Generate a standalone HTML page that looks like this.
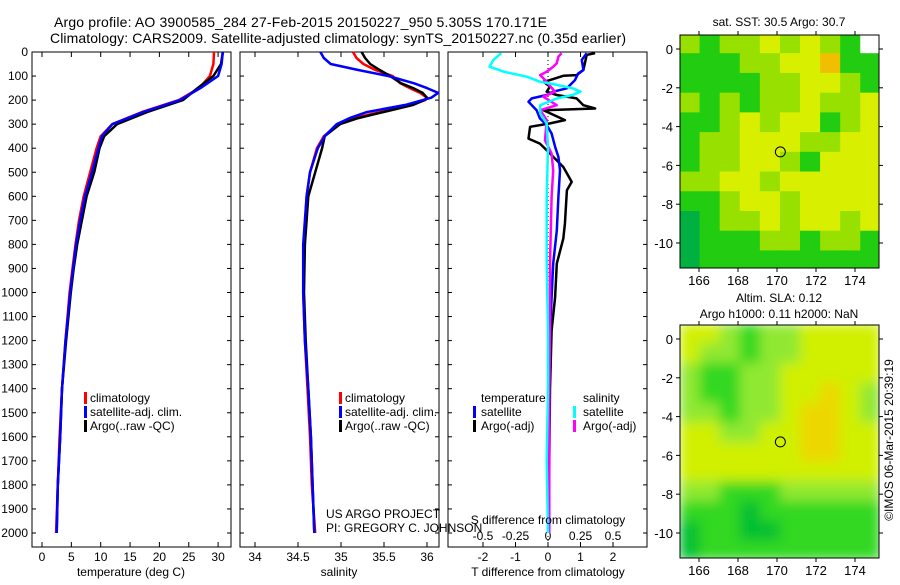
<!DOCTYPE html>
<html><head><meta charset="utf-8">
<style>
html,body{margin:0;padding:0;background:#fff;}
body{width:900px;height:580px;overflow:hidden;font-family:"Liberation Sans",sans-serif;}
svg text{font-family:"Liberation Sans",sans-serif;fill:#000;}
</style></head>
<body>
<svg id="fig" width="900" height="580" viewBox="0 0 900 580" xmlns="http://www.w3.org/2000/svg">
<text x="54" y="27" font-size="14" textLength="493">Argo profile: AO 3900585_284 27-Feb-2015 20150227_950 5.305S 170.171E</text>
<text x="50" y="43" font-size="14" textLength="576">Climatology: CARS2009. Satellite-adjusted climatology: synTS_20150227.nc (0.35d earlier)</text>
<g id="plots"></g>
<text x="779" y="26" font-size="12" text-anchor="middle">sat. SST: 30.5 Argo: 30.7</text>
<text x="779" y="302" font-size="12" text-anchor="middle">Altim. SLA: 0.12</text>
<text x="779" y="318" font-size="12" text-anchor="middle">Argo h1000: 0.11 h2000: NaN</text>
<text x="0" y="0" font-size="12" text-anchor="middle" transform="translate(893,440) rotate(-90)">©IMOS 06-Mar-2015 20:39:19</text>
</svg>
<script>
// ---------- data ----------
const tDepth = [0,50,100,150,200,250,300,350,400,500,600,700,800,900,1000,1200,1400,1600,1800,2000];
const tRed   = [29.3,29.2,28.6,26.8,23.3,17.0,12.0,10.0,9.3,8.2,7.1,6.3,5.7,5.2,4.7,4.0,3.4,3.0,2.7,2.4];
const tBlack = [30.8,30.5,29.2,26.5,24.0,17.9,12.8,10.6,9.8,8.9,7.6,6.8,6.0,5.4,4.9,4.1,3.4,3.1,2.7,2.5];
const tBlue  = [30.8,30.6,30.0,27.0,23.5,17.2,12.0,10.2,9.6,8.5,7.3,6.5,5.8,5.3,4.8,4.0,3.4,3.1,2.7,2.5];

const sDepth = [0,25,50,75,100,130,150,170,190,200,220,250,275,300,350,400,500,600,800,1000,1200,1400,1600,1800,2000];
const sRed   = [35.14,35.18,35.26,35.4,35.6,35.69,35.8,35.92,36.0,35.98,35.8,35.45,35.15,34.97,34.8,34.72,34.64,34.6,34.57,34.56,34.58,34.61,34.64,34.66,34.7];
const sBlack = [35.24,35.28,35.34,35.45,35.57,35.7,35.84,35.95,36.0,35.97,35.84,35.49,35.2,34.99,34.81,34.78,34.7,34.62,34.58,34.57,34.59,34.62,34.65,34.67,34.69];
const sBlue  = [34.76,34.8,34.88,35.2,35.55,35.85,36.0,36.13,36.05,35.95,35.75,35.3,35.1,34.95,34.81,34.73,34.64,34.6,34.56,34.56,34.58,34.62,34.65,34.67,34.69];

const dtArgoDepth = [5,12,75,96,99,117,124,144,165,179,193,221,235,242,283,297,311,360,381,422,478,540,575,714,776,880,1020,1158,1400,1700,2000];
const dtArgo      = [1.45,1.19,1.09,0.88,0.47,0.06,-0.14,0.06,-0.04,0.27,0.88,1.09,1.45,-0.14,0.52,0.06,-0.55,-0.6,-0.25,0.06,0.47,0.73,0.58,0.52,0.47,0.27,0.22,0.11,0.06,0.04,0.03];
const dtSatDepth  = [5,33,75,89,117,151,165,179,193,207,242,276,304,339,394,436,492,603,742,880,1020,1158,1400,1700,2000];
const dtSat       = [1.19,1.04,1.09,0.93,0.83,0.58,0.16,-0.04,-0.5,-0.6,-0.35,-0.25,-0.04,0.11,0.22,0.32,0.37,0.32,0.27,0.16,0.11,0.06,0.04,0.03,0.03];
const dsSatDepth  = [5,33,61,82,103,124,131,151,165,179,193,221,256,297,394,603,880,1158,1400,1700,2000];
const dsSat       = [-0.36,-0.42,-0.45,-0.34,-0.16,-0.06,0.02,0.19,0.25,0.19,0.07,-0.06,-0.06,-0.01,0.0,-0.01,-0.01,0.0,0.0,-0.01,0.0];
const dsArgoDepth = [5,19,47,61,82,96,124,144,165,186,221,242,283,367,422,492,603,880,1158,1400,1700,2000];
const dsArgo      = [0.105,0.08,0.067,0.04,-0.01,-0.06,-0.01,0.02,0.054,-0.036,0.067,-0.06,-0.01,-0.023,0.028,0.04,0.028,0.015,0.015,0.01,0.01,0.01];

const depthTicks = [0,100,200,300,400,500,600,700,800,900,1000,1100,1200,1300,1400,1500,1600,1700,1800,1900,2000];
const tempTicks = [0,5,10,15,20,25,30];
const salTicks = [34,34.5,35,35.5,36];
const salTickLabels = ["34","34.5","35","35.5","36"];
const dtTicks = [-2,-1,0,1,2];
const dsTicks = [-0.5,-0.25,0,0.25,0.5];
const dsTickLabels = ["-0.5","-0.25","0","0.25","0.5"];

const sstGrid = [
[2,1,2,2,3,2,3,2,1,5],
[1,1,1,2,2,3,3,4,1,1],
[1,1,1,1,2,2,3,3,2,1],
[2,1,2,1,2,2,3,2,2,3],
[1,1,2,3,2,3,3,1,2,3],
[1,2,2,3,3,3,2,2,3,3],
[1,2,2,3,3,2,1,3,3,3],
[2,2,3,3,2,3,3,3,3,3],
[1,1,2,3,3,2,3,3,3,3],
[0,1,2,2,3,2,3,3,2,3],
[0,1,1,1,2,2,1,2,2,1],
[0,1,1,1,1,1,1,1,1,1]];
const slaGrid = [
[3,3,2,1,2,2,3,3,3,3],
[3,2,2,1,2,2,3,3,3,3],
[2,1,1,2,2,3,3,3,3,3],
[2,1,1,2,2,3,3,4,3,2],
[2,2,1,2,2,3,4,4,3,2],
[3,3,2,2,3,3,4,4,3,3],
[3,3,3,3,3,3,4,4,3,3],
[3,3,3,3,3,3,3,3,3,3],
[2,2,1,1,1,2,2,2,2,2],
[1,1,1,0,1,1,1,1,1,1],
[0,1,1,0,0,1,1,1,1,1],
[0,1,1,1,1,1,1,1,1,1]];
const lonTicks = [166,168,170,172,174];
const latTicks = [0,-2,-4,-6,-8,-10];
const argoLon = [170.171];
const argoLat = [-5.305];

// ---------- helpers ----------
const NS = "http://www.w3.org/2000/svg";
const root = document.getElementById('plots');
function mk(tag, attrs, parent){
  const e = document.createElementNS(NS, tag);
  for (const k in attrs) e.setAttribute(k, attrs[k]);
  (parent||root).appendChild(e);
  return e;
}
const TOP = 52, BOT = 547;
const yD = d => TOP + d * 0.2405;

function panel(x0, x1, name){
  const g = mk('g', {});
  
  
  const r = mk('rect', {x:x0, y:TOP, width:x1-x0, height:BOT-TOP, fill:'#fff', stroke:'#000', 'stroke-width':1}, g);
  
  
  depthTicks.forEach(d => {
    mk('line', {x1:x0, x2:x0+4, y1:yD(d), y2:yD(d), stroke:'#000'}, g);
    mk('line', {x1:x1-4, x2:x1, y1:yD(d), y2:yD(d), stroke:'#000'}, g);
  });
  return g;
}
function line(g, xs, ds, fx, color, name, w){
  const pts = xs.map((v,i) => fx(v).toFixed(1) + ',' + yD(ds[i]).toFixed(1)).join(' ');
  const p = mk('polyline', {points:pts, fill:'none', stroke:color, 'stroke-width':w||2.5, 'stroke-linejoin':'round'}, g);
  
  
}
function txt(g, x, y, s, size, anchor, name){
  const t = mk('text', {x:x, y:y, 'font-size':size||12, 'text-anchor':anchor||'start'}, g);
  t.textContent = s;
  
  
  return t;
}
function legMark(g, x, y, color, name){
  const m = mk('rect', {x:x, y:y-10, width:3, height:12, fill:color}, g);
  
  
}

// depth labels
depthTicks.forEach(d => txt(root, 28, yD(d)+4, String(d), 12, 'end', 'depth-tick-label'));

// ---------- panel 1 temperature ----------
const xT = v => 42 + v * 5.87;
const p1 = panel(32, 231, 'temperature-panel');
tempTicks.forEach(v => {
  mk('line', {x1:xT(v), x2:xT(v), y1:BOT, y2:BOT-5, stroke:'#000'}, p1);
  mk('line', {x1:xT(v), x2:xT(v), y1:TOP, y2:TOP+5, stroke:'#000'}, p1);
  txt(p1, xT(v), 561, String(v), 12, 'middle', 'temperature-tick-label');
});
line(p1, tRed, tDepth, xT, '#f00', 'temperature-climatology-line');
line(p1, tBlack, tDepth, xT, '#000', 'temperature-argo-line');
line(p1, tBlue, tDepth, xT, '#00f', 'temperature-satellite-line');
txt(p1, 131, 576, 'temperature (deg C)', 12, 'middle', 'temperature-axis-title');
legMark(p1, 84, 402, '#f00', 'legend-climatology-marker');
txt(p1, 90, 402, 'climatology', 12, 'start', 'legend-climatology');
legMark(p1, 84, 416, '#00f', 'legend-satellite-marker');
txt(p1, 90, 416, 'satellite-adj. clim.', 12, 'start', 'legend-satellite');
legMark(p1, 84, 430, '#000', 'legend-argo-marker');
txt(p1, 90, 430, 'Argo(..raw -QC)', 12, 'start', 'legend-argo');

// ---------- panel 2 salinity ----------
const xS = v => 255 + (v - 34) * 86;
const p2 = panel(240, 439, 'salinity-panel');
salTicks.forEach((v,i) => {
  mk('line', {x1:xS(v), x2:xS(v), y1:BOT, y2:BOT-5, stroke:'#000'}, p2);
  mk('line', {x1:xS(v), x2:xS(v), y1:TOP, y2:TOP+5, stroke:'#000'}, p2);
  txt(p2, xS(v), 561, salTickLabels[i], 12, 'middle', 'salinity-tick-label');
});
line(p2, sRed, sDepth, xS, '#f00', 'salinity-climatology-line');
line(p2, sBlack, sDepth, xS, '#000', 'salinity-argo-line');
line(p2, sBlue, sDepth, xS, '#00f', 'salinity-satellite-line');
txt(p2, 339, 576, 'salinity', 12, 'middle', 'salinity-axis-title');
legMark(p2, 339, 402, '#f00', 'legend-climatology-marker');
txt(p2, 345, 402, 'climatology', 12, 'start', 'legend-climatology');
legMark(p2, 339, 416, '#00f', 'legend-satellite-marker');
txt(p2, 345, 416, 'satellite-adj. clim.', 12, 'start', 'legend-satellite');
legMark(p2, 339, 430, '#000', 'legend-argo-marker');
txt(p2, 345, 430, 'Argo(..raw -QC)', 12, 'start', 'legend-argo');

// ---------- panel 3 differences ----------
const xDT = v => 548 + v * 32.5;
const xDS = v => 548 + v * 130;
const p3 = panel(448, 647, 'difference-panel');
dtTicks.forEach(v => {
  mk('line', {x1:xDT(v), x2:xDT(v), y1:BOT, y2:BOT-5, stroke:'#000'}, p3);
  txt(p3, xDT(v), 561, String(v), 12, 'middle', 'tdiff-tick-label');
});
dsTicks.forEach((v,i) => {
  mk('line', {x1:xDS(v), x2:xDS(v), y1:TOP, y2:TOP+5, stroke:'#000'}, p3);
  txt(p3, xDS(v), 540, dsTickLabels[i], 12, 'middle', 'sdiff-tick-label');
});
mk('line', {x1:xDT(0), x2:xDT(0), y1:TOP, y2:BOT, stroke:'#000', 'stroke-width':1, 'stroke-dasharray':'1,3'}, p3);
line(p3, dtArgo, dtArgoDepth, xDT, '#000', 'tdiff-argo-line', 2.5);
line(p3, dtSat, dtSatDepth, xDT, '#00f', 'tdiff-satellite-line', 2.5);
line(p3, dsArgo, dsArgoDepth, xDS, '#f0f', 'sdiff-argo-line', 2.5);
line(p3, dsSat, dsSatDepth, xDS, '#0ff', 'sdiff-satellite-line', 2.5);
txt(p3, 548, 576, 'T difference from climatology', 12, 'middle', 'tdiff-axis-title');
txt(p3, 548, 524, 'S difference from climatology', 12, 'middle', 'sdiff-axis-title');
txt(p3, 481, 402, 'temperature', 12, 'start', 'legend-temperature-header');
txt(p3, 583, 402, 'salinity', 12, 'start', 'legend-salinity-header');
legMark(p3, 473, 416, '#00f', 'legend-t-satellite-marker');
txt(p3, 481, 416, 'satellite', 12, 'start', 'legend-t-satellite');
legMark(p3, 473, 430, '#000', 'legend-t-argo-marker');
txt(p3, 481, 430, 'Argo(-adj)', 12, 'start', 'legend-t-argo');
legMark(p3, 573, 416, '#0ff', 'legend-s-satellite-marker');
txt(p3, 583, 416, 'satellite', 12, 'start', 'legend-s-satellite');
legMark(p3, 573, 430, '#f0f', 'legend-s-argo-marker');
txt(p3, 583, 430, 'Argo(-adj)', 12, 'start', 'legend-s-argo');

// credits drawn on top of panels
txt(root, 326, 518, 'US ARGO PROJECT', 12, 'start', 'project-credit');
txt(root, 326, 532, 'PI: GREGORY C. JOHNSON', 12, 'start', 'pi-credit');

// ---------- maps ----------
function map(grid, colors, top, bot, lat0y, name, blur){
  const L = 680, R = 879;
  const xL = lon => 699 + (lon - 166) * 19.5;
  const yL = lat => lat0y - lat * 19.4;
  const g = mk('g', {});
  
  
  const clipId = name + '-clip';
  const cp = mk('clipPath', {id:clipId}, g);
  mk('rect', {x:L, y:top, width:R-L, height:bot-top}, cp);
  const cells = mk('g', {'clip-path':'url(#' + clipId + ')'}, g);
  const inner = mk('g', blur ? {filter:'url(#' + name + '-blur)'} : {}, cells);
  if (blur){
    const f = mk('filter', {id:name + '-blur', x:'-10%', y:'-10%', width:'120%', height:'120%'}, g);
    mk('feGaussianBlur', {stdDeviation:6}, f);
  }
  const rows = grid.length, cols = grid[0].length;
  const lonW = 10.3 / cols, latH = 12.2 / rows;
  grid.forEach((row, r) => row.forEach((v, c) => {
    const lon = 165 + c * lonW, lat = 0.8 - r * latH;
    const x = xL(lon), y = yL(lat);
    const cell = mk('rect', {x:x, y:y, width:xL(lon+lonW)-x+0.5, height:yL(lat-latH)-y+0.5, fill:colors[v]}, inner);
    
    
  }));
  const fr = mk('rect', {x:L, y:top, width:R-L, height:bot-top, fill:'none', stroke:'#000'}, g);
  
  
  lonTicks.forEach(v => {
    mk('line', {x1:xL(v), x2:xL(v), y1:top, y2:top-4, stroke:'#000'}, g);
    mk('line', {x1:xL(v), x2:xL(v), y1:bot, y2:bot+4, stroke:'#000'}, g);
    txt(g, xL(v), bot+17, String(v), 13, 'middle', 'lon-tick-label');
  });
  latTicks.forEach(v => {
    mk('line', {x1:L, x2:L-4, y1:yL(v), y2:yL(v), stroke:'#000'}, g);
    mk('line', {x1:R, x2:R+4, y1:yL(v), y2:yL(v), stroke:'#000'}, g);
    txt(g, 673, yL(v)+5, String(v), 13, 'end', 'lat-tick-label');
  });
  argoLon.forEach((lo, i) => {
    const c = mk('circle', {cx:xL(lo), cy:yL(argoLat[i]), r:5, fill:'none', stroke:'#000', 'stroke-width':1}, g);
    
    
  });
}
map(sstGrid, ['#00b040','#22cc10','#98e000','#d8f000','#f0c000','#ffffff'], 35, 268, 49, 'sst-map', false);
map(slaGrid, ['#00c030','#30d820','#90e830','#d0f000','#ecd800'], 325, 558, 339, 'sla-map', true);
</script>
</body></html>
